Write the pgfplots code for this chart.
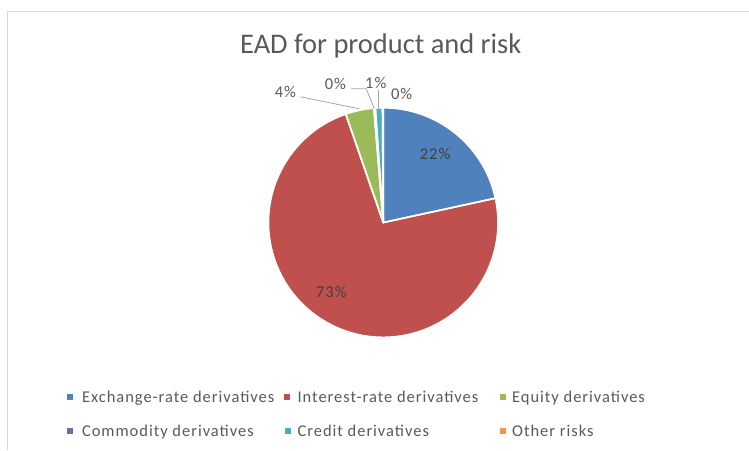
\documentclass[border=0pt]{standalone}
\usepackage{pgfplots}
\pgfplotsset{compat=1.18}
\usepackage{fontspec}
\setmainfont{Carlito}
\newfontfamily\legfont[LetterSpace=6]{Carlito}
\definecolor{cBlue}{HTML}{4F81BD}
\definecolor{cRed}{HTML}{C0504D}
\definecolor{cGreen}{HTML}{9BBB59}
\definecolor{cPurple}{HTML}{8064A2}
\definecolor{cAqua}{HTML}{4BACC6}
\definecolor{cOrange}{HTML}{F79646}
\definecolor{txtGray}{HTML}{595959}
\definecolor{inGray}{HTML}{404040}
\definecolor{leadGray}{HTML}{A6A6A6}
\definecolor{frameGray}{HTML}{D9D9D9}
% data (percent)
\def\vA{21.6}% Exchange-rate derivatives
\def\vB{73.1}% Interest-rate derivatives
\def\vC{4.0}%  Equity derivatives
\def\vD{0.2}%  Commodity derivatives
\def\vE{1.0}%  Credit derivatives
\def\vF{0.1}%  Other risks
\pgfmathsetmacro\aA{90}
\pgfmathsetmacro\aB{\aA-3.6*\vA}
\pgfmathsetmacro\aC{\aB-3.6*\vB}
\pgfmathsetmacro\aD{\aC-3.6*\vC}
\pgfmathsetmacro\aE{\aD-3.6*\vD}
\pgfmathsetmacro\aF{\aE-3.6*\vE}
\pgfmathsetmacro\aG{\aF-3.6*\vF}
\def\cx{384}\def\cy{223}\def\R{115}
\newcommand\slice[3]{% color, start, end
  \fill[#1] (axis cs:\cx,\cy) -- ++(#2:\R pt) arc[start angle=#2, end angle=#3, radius=\R pt] -- cycle;}
\newcommand\sliceborder[2]{%
  \draw[white, line width=1.6pt, line join=round] (axis cs:\cx,\cy) -- ++(#1:\R pt) arc[start angle=#1, end angle=#2, radius=\R pt] -- cycle;}
\begin{document}
\begin{tikzpicture}
\begin{axis}[
  hide axis, scale only axis,
  width=749pt, height=450pt,
  xmin=0, xmax=749, ymin=0, ymax=450,
  y dir=reverse, clip=false,
]
\path (axis cs:0,0) rectangle (axis cs:749,450);
\draw[frameGray, line width=1pt] (axis cs:7.5,451) -- (axis cs:7.5,11.5) -- (axis cs:750,11.5);
\slice{cBlue}{\aA}{\aB}
\slice{cRed}{\aB}{\aC}
\slice{cGreen}{\aC}{\aD}
\slice{cPurple}{\aD}{\aE}
\slice{cAqua}{\aE}{\aF}
\slice{cOrange}{\aF}{\aG}
\sliceborder{\aA}{\aB}
\sliceborder{\aB}{\aC}
\sliceborder{\aC}{\aD}
\sliceborder{\aD}{\aE}
\sliceborder{\aE}{\aF}
\sliceborder{\aF}{\aG}
% leader lines
\draw[leadGray, line width=0.8pt] (axis cs:301,97) -- (axis cs:360,109);
\draw[leadGray, line width=0.8pt] (axis cs:352,89) -- (axis cs:367,89) -- (axis cs:375,109);
\draw[leadGray, line width=0.8pt] (axis cs:379,90) -- (axis cs:379,108);
% title
\node[anchor=base, text=txtGray, font=\fontsize{28.5}{32}\selectfont, inner sep=0pt] at (axis cs:381.5,53.3) {EAD for product and risk};
% data labels
\begin{scope}[every node/.style={anchor=base, inner sep=0pt, font=\legfont\fontsize{16.5}{19}\selectfont}]
\node[text=inGray] at (axis cs:436,160) {22\%};
\node[text=inGray] at (axis cs:332,298) {73\%};
\node[text=txtGray] at (axis cs:286,98) {4\%};
\node[text=txtGray] at (axis cs:336,90) {0\%};
\node[text=txtGray] at (axis cs:376.5,89) {1\%};
\node[text=txtGray] at (axis cs:402.5,100) {0\%};
\end{scope}
% legend
\begin{scope}[every node/.style={anchor=base west, inner sep=0pt, text=txtGray, font=\legfont\fontsize{16.5}{19}\selectfont}]
\fill[cBlue]   (axis cs:67,395) rectangle (axis cs:73,401);
\node at (axis cs:82,403) {Exchange-rate derivatives};
\fill[cRed]    (axis cs:284.5,395) rectangle (axis cs:290.5,401);
\node at (axis cs:298,403) {Interest-rate derivatives};
\fill[cGreen]  (axis cs:501,395) rectangle (axis cs:507,401);
\node at (axis cs:513,403) {Equity derivatives};
\fill[cPurple] (axis cs:67,429) rectangle (axis cs:73,435);
\node at (axis cs:82,437) {Commodity derivatives};
\fill[cAqua]   (axis cs:285.5,429) rectangle (axis cs:291.5,435);
\node at (axis cs:298,437) {Credit derivatives};
\fill[cOrange] (axis cs:501,429) rectangle (axis cs:507,435);
\node at (axis cs:513,437) {Other risks};
\end{scope}
\end{axis}
\end{tikzpicture}
\end{document}
